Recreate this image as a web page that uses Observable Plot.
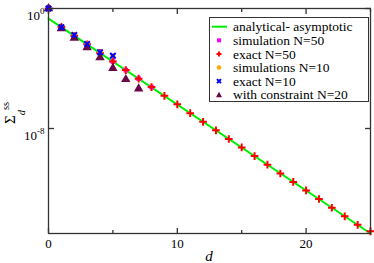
<!DOCTYPE html>
<html><head><meta charset="utf-8">
<script src="https://cdn.jsdelivr.net/npm/d3@7"></script>
<script src="https://cdn.jsdelivr.net/npm/@observablehq/plot@0.6"></script>
<style>html,body{margin:0;padding:0;background:#fff;}</style>
</head><body><div id="chart"></div>
<script>
// distance d
const dExact50 = [0,1,2,3,4,5,6,7,8,9,10,11,12,13,14,15,16,17,18,19,20,21,22,23,24,25];
const vExact50 = [1,5.8e-2,1.5e-2,4.1e-3,1.1e-3,2.9e-4,7.8e-5,2.1e-5,5.8e-6,1.5e-6,4.1e-7,1.05e-7,2.8e-8,7.6e-9,2.0e-9,5.5e-10,1.45e-10,3.9e-11,1.0e-11,2.75e-12,7.4e-13,2.0e-13,5.2e-14,1.4e-14,3.8e-15,1.4e-15];
const dSim50 = [0,1,2,3,4,5,6,7,8];
const vSim50 = [1,5.8e-2,1.5e-2,4.1e-3,1.1e-3,2.9e-4,7.8e-5,2.1e-5,5.8e-6];
const dN10 = [0,1,2,3,4,5];
const vExact10 = [1,5.6e-2,1.7e-2,4.3e-3,1.2e-3,7.1e-4];
const vSim10 = [1,5.6e-2,1.7e-2,4.3e-3,1.2e-3,7.0e-4];
const dConstr20 = [0,1,2,3,4,5,6,7];
const vConstr20 = [1,4.6e-2,1.07e-2,2.5e-3,5.4e-4,1.05e-4,1.9e-5,4.5e-6];
const dLine = [0,25];
const vLine = [0.214,1.0e-15];
const xTicksMajor = [0,10,20];
const xTicksMinor = [5,15,25];
const yTicks = [1,1e-8];
const yTickExp = ["0","-8"];
const legendLabels = ["analytical- asymptotic","simulation N=50","exact N=50","simulations N=10","exact N=10","with constraint N=20"];
const colors = {line:"#00ee00", sim50:"#ff00ff", exact50:"#ff0000", sim10:"#ffa500", exact10:"#0000ff", constr:"#670748"};

const pts = (xs, ys) => xs.map((x,i)=>({x, y: ys[i]}));
const font = "Liberation Serif, Times New Roman, serif";

const plot = Plot.plot({
  width:374, height:263,
  marginLeft:48, marginRight:4, marginTop:8, marginBottom:30,
  x:{domain:[0,25]},
  y:{type:"log", domain:[1e-15,1]},
  style:{fontFamily:font, fontSize:"13px", background:"#fff", color:"#000"},
  marks:[
    Plot.line(pts(dLine,vLine), {x:"x", y:"y", stroke:colors.line, strokeWidth:2}),
    Plot.dot(pts(dSim50,vSim50), {x:"x", y:"y", symbol:"square", fill:colors.sim50, r:2.6}),
    Plot.dot(pts(dExact50,vExact50), {x:"x", y:"y", symbol:"plus", stroke:colors.exact50, strokeWidth:2, r:2.6}),
    Plot.dot(pts(dN10,vSim10), {x:"x", y:"y", symbol:"circle", fill:colors.sim10, r:2.5}),
    Plot.dot(pts(dConstr20,vConstr20), {x:"x", y:"y", symbol:"triangle", fill:colors.constr, r:3.5}),
    Plot.dot(pts(dN10,vExact10), {x:"x", y:"y", symbol:"times", stroke:colors.exact10, strokeWidth:2, r:2.6}),
    Plot.frame({stroke:"#333", strokeWidth:1.3}),
    Plot.axisX({ticks:xTicksMajor, tickSize:0, tickPadding:5, tickFormat:d3.format("d"), label:null, fontSize:13}),
    Plot.axisX({ticks:xTicksMajor, tickSize:-5, tickFormat:()=>"", label:null, stroke:"#333", strokeWidth:1.3}),
    Plot.axisX({ticks:xTicksMinor, tickSize:-3, tickFormat:()=>"", label:null, stroke:"#333", strokeWidth:1.3}),
    Plot.axisX({anchor:"top", ticks:xTicksMajor, tickSize:-5, tickFormat:()=>"", label:null, stroke:"#333", strokeWidth:1.3}),
    Plot.axisX({anchor:"top", ticks:xTicksMinor, tickSize:-3, tickFormat:()=>"", label:null, stroke:"#333", strokeWidth:1.3}),
    Plot.axisY({ticks:yTicks, tickSize:0, tickPadding:4, tickFormat:(v)=>"10|"+yTickExp[yTicks.indexOf(v)], label:null, fontSize:13}),
    Plot.axisY({ticks:yTicks, tickSize:-6, tickFormat:()=>"", label:null, stroke:"#333", strokeWidth:1.3}),
    Plot.axisY({anchor:"right", ticks:yTicks, tickSize:-6, tickFormat:()=>"", label:null, stroke:"#333", strokeWidth:1.3})
  ]
});
document.getElementById("chart").appendChild(plot);
const svg = d3.select(plot);

// y tick labels as 10^n
svg.selectAll("text").filter(function(){ return this.textContent.includes("|"); }).each(function(){
  const t = d3.select(this);
  const [base, e] = t.text().split("|");
  t.text(null).attr("dy","0.55em");
  t.append("tspan").text(base);
  t.append("tspan").attr("dy","-0.6em").attr("font-size","9px").text(e);
});

// x axis label
svg.append("text").attr("x",209).attr("y",261).attr("text-anchor","middle")
  .attr("font-family",font).attr("font-style","italic").attr("font-size","15px").text("d");

// y axis label Σ_d^ss rotated
const yl = svg.append("text").attr("transform","translate(15,124) rotate(-90)")
  .attr("text-anchor","start").attr("font-family",font).attr("font-size","15px");
yl.append("tspan").text("Σ");
yl.append("tspan").attr("dy",10).attr("font-size","10.5px").attr("font-style","italic").text("d");
yl.append("tspan").attr("dy",-16).attr("dx",0).attr("font-size","10.5px").text("ss");

// legend
const lg = svg.append("g").attr("font-family",font).attr("font-size","13.5px").attr("text-anchor","start");
lg.append("rect").attr("x",209.5).attr("y",17.5).attr("width",159).attr("height",84)
  .attr("fill","#fff").attr("stroke","#333").attr("stroke-width",1);
const rowY = [26.7,40.3,53.9,67.5,81.1,94.7];
const mx = 219;
legendLabels.forEach((lab,i)=>{
  lg.append("text").attr("x",233).attr("y",rowY[i]).attr("dy","0.35em").text(lab);
});
lg.append("line").attr("x1",212).attr("x2",227).attr("y1",rowY[0]).attr("y2",rowY[0]).attr("stroke",colors.line).attr("stroke-width",2);
lg.append("rect").attr("x",mx-2).attr("y",rowY[1]-2).attr("width",4).attr("height",4).attr("fill",colors.sim50);
lg.append("path").attr("d",`M${mx-2.5},${rowY[2]}h5M${mx},${rowY[2]-2.5}v5`).attr("stroke",colors.exact50).attr("stroke-width",2);
lg.append("circle").attr("cx",mx).attr("cy",rowY[3]).attr("r",2.2).attr("fill",colors.sim10);
lg.append("path").attr("d",`M${mx-2},${rowY[4]-2}l4,4M${mx-2},${rowY[4]+2}l4,-4`).attr("stroke",colors.exact10).attr("stroke-width",2);
lg.append("path").attr("d",`M${mx},${rowY[5]-3}L${mx+3},${rowY[5]+2.5}L${mx-3},${rowY[5]+2.5}Z`).attr("fill",colors.constr);
</script></body></html>
